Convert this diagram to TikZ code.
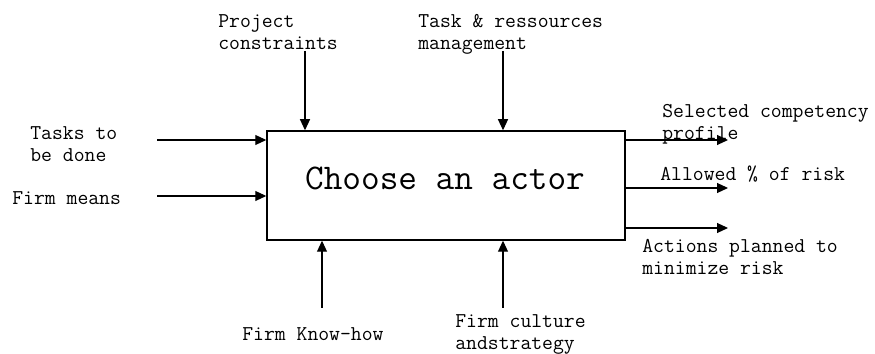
\documentclass[tikz,border=0pt]{standalone}
\usepackage{tikz}
\usetikzlibrary{arrows.meta}

\begin{document}
\begin{tikzpicture}
        \tikzstyle{activity} = [rectangle, draw, line width=0.85pt, inner sep=0pt, minimum width=7.16cm, minimum height=2.18cm]
        \tikzstyle{actname} = [font=\ttfamily\fontsize{20.6}{24}\selectfont, inner sep=0pt]
        \tikzstyle{flowlbl} = [font=\ttfamily\fontsize{12}{12.5}\selectfont, align=left, anchor=north west, inner sep=0pt]
        \tikzstyle{flow} = [line width=0.6pt, -{Triangle[length=2.2mm, width=2mm]}]
        \useasboundingbox (0,0) rectangle (17.5,7.08);
        \node[activity] (act) at (8.92,3.37) {};
        \node[actname] (actlbl) at (8.9,3.52) {Choose an actor};
        % inputs
        \coordinate (in1) at (3.14,4.28);
        \coordinate (in2) at (3.14,3.16);
        \node[flowlbl] (tasks) at (0.6,4.56) {Tasks to\\be done};
        \node[flowlbl] (means) at (0.24,3.26) {Firm means};
        \draw[flow] (in1) -- (in1 -| act.west);
        \draw[flow] (in2) -- (in2 -| act.west);
        % controls
        \coordinate (ctl1) at (6.1,6.06);
        \coordinate (ctl2) at (10.06,6.06);
        \node[flowlbl] (constr) at (4.36,6.8) {Project\\constraints};
        \node[flowlbl] (manage) at (8.36,6.8) {Task \& ressources\\management};
        \draw[flow] (ctl1) -- (ctl1 |- act.north);
        \draw[flow] (ctl2) -- (ctl2 |- act.north);
        % mechanisms
        \coordinate (mec1) at (6.44,0.92);
        \coordinate (mec2) at (10.06,0.92);
        \node[flowlbl] (knowhow) at (4.84,0.54) {Firm Know-how};
        \node[flowlbl] (culture) at (9.1,0.8) {Firm culture\\andstrategy};
        \draw[flow] (mec1) -- (mec1 |- act.south);
        \draw[flow] (mec2) -- (mec2 |- act.south);
        % outputs
        \coordinate (out1) at (14.56,4.28);
        \coordinate (out2) at (14.56,3.32);
        \coordinate (out3) at (14.56,2.52);
        \node[flowlbl] (profile) at (13.24,5.0) {Selected competency\\profile};
        \node[flowlbl] (risk) at (13.2,3.76) {Allowed \% of risk};
        \node[flowlbl] (actions) at (12.84,2.3) {Actions planned to\\minimize risk};
        \draw[flow] (out1 -| act.east) -- (out1);
        \draw[flow] (out2 -| act.east) -- (out2);
        \draw[flow] (out3 -| act.east) -- (out3);
\end{tikzpicture}
\end{document}
